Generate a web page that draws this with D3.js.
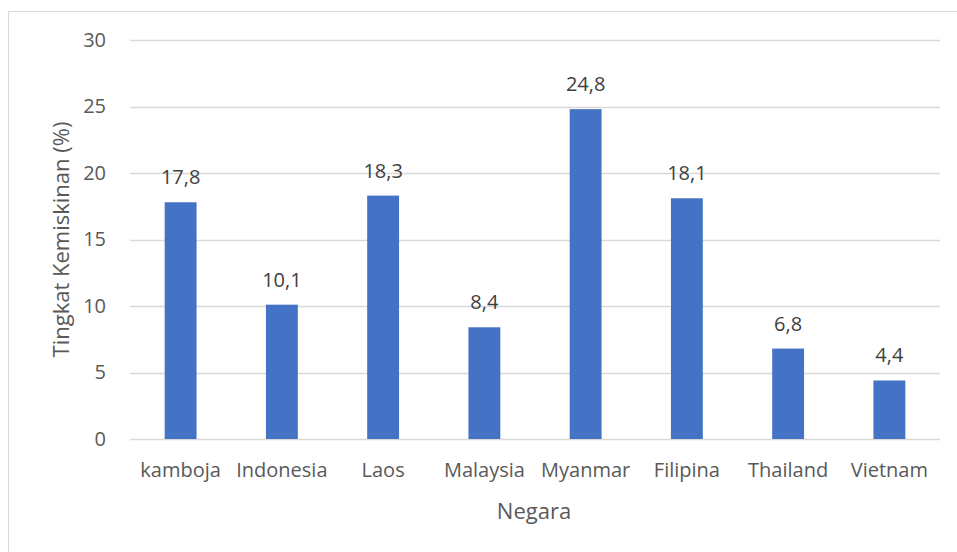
<!DOCTYPE html>
<html>
<head>
<meta charset="utf-8">
<script src="https://cdn.jsdelivr.net/npm/d3@7"></script>
<style>
  body { margin: 0; background: #fff; }
  text { font-family: "Open Sans", sans-serif; fill: #595959; }
</style>
</head>
<body>
<div id="chart"></div>
<script>
// data
var negara = ["kamboja", "Indonesia", "Laos", "Malaysia", "Myanmar", "Filipina", "Thailand", "Vietnam"];
var kemiskinan = [17.8, 10.1, 18.3, 8.4, 24.8, 18.1, 6.8, 4.4];
var y_ticks = [0, 5, 10, 15, 20, 25, 30];

var svg_w = 957;
var svg_h = 552;
var plot_left = 130, plot_right = 940, plot_top = 40, plot_bottom = 439;

var svg = d3.select("#chart")
	.append("svg")
	.attr("width", svg_w)
	.attr("height", svg_h);

// chart border
svg.append("rect")
	.attr("x", 8.5)
	.attr("y", 11.5)
	.attr("width", svg_w + 10)
	.attr("height", svg_h + 10)
	.attr("fill", "none")
	.attr("stroke", "#d9d9d9");

var x = d3.scaleBand()
	.domain(negara)
	.range([plot_left, plot_right])
	.paddingInner(0.685)
	.paddingOuter(0.3425);

var y = d3.scaleLinear()
	.domain([0, 30])
	.range([plot_bottom, plot_top]);

// gridlines
svg.append("g")
	.selectAll("line")
	.data(y_ticks)
	.enter()
	.append("line")
	.attr("x1", plot_left)
	.attr("x2", plot_right)
	.attr("y1", function(d) { return Math.round(y(d)) + 0.5; })
	.attr("y2", function(d) { return Math.round(y(d)) + 0.5; })
	.attr("stroke", "#d9d9d9")
	.attr("stroke-width", 1.3);

// y axis labels
var y_axis = d3.axisLeft(y).tickValues(y_ticks).tickSize(0).tickPadding(24);
svg.append("g")
	.attr("transform", "translate(" + plot_left + ",0)")
	.call(y_axis)
	.call(function(g) { g.select(".domain").remove(); })
	.selectAll("text")
	.style("font-family", "'Open Sans', sans-serif")
	.style("font-size", "20px")
	.attr("fill", "#595959");

// bars
svg.append("g")
	.selectAll("rect")
	.data(kemiskinan)
	.enter()
	.append("rect")
	.attr("x", function(d, i) { return x(negara[i]); })
	.attr("y", function(d) { return y(d); })
	.attr("width", x.bandwidth())
	.attr("height", function(d) { return y(0) - y(d); })
	.attr("fill", "#4472c4");

// value labels
svg.append("g")
	.selectAll("text")
	.data(kemiskinan)
	.enter()
	.append("text")
	.attr("x", function(d, i) { return x(negara[i]) + x.bandwidth() / 2; })
	.attr("y", function(d) { return y(d) - 18; })
	.attr("text-anchor", "middle")
	.style("font-size", "20px")
	.style("fill", "#404040")
	.text(function(d) { return String(d).replace(".", ","); });

// x axis labels
var x_axis = d3.axisBottom(x).tickSize(0).tickPadding(24);
svg.append("g")
	.attr("transform", "translate(0," + plot_bottom + ")")
	.call(x_axis)
	.call(function(g) { g.select(".domain").remove(); })
	.selectAll("text")
	.style("font-family", "'Open Sans', sans-serif")
	.style("font-size", "20px")
	.attr("fill", "#595959");

// axis titles
svg.append("text")
	.attr("x", 534)
	.attr("y", 519)
	.attr("text-anchor", "middle")
	.style("font-size", "22px")
	.text("Negara");

svg.append("text")
	.attr("transform", "translate(69," + ((plot_top + plot_bottom) / 2) + ") rotate(-90)")
	.attr("text-anchor", "middle")
	.style("font-size", "22px")
	.text("Tingkat Kemiskinan (%)");
</script>
</body>
</html>
